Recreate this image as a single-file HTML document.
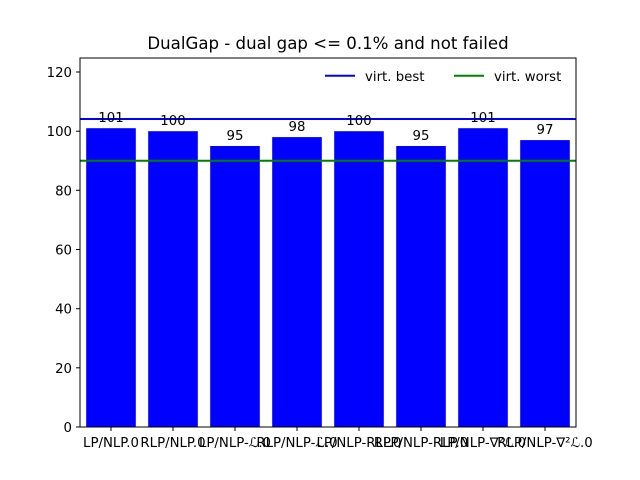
<!DOCTYPE html>
<html><head><meta charset="utf-8"><style>body{margin:0;background:#fff}svg{display:block}text{font-family:"DejaVu Sans","Liberation Sans",sans-serif;font-size:13.3px;fill:#000}</style></head><body>
<svg width="640" height="480" xmlns="http://www.w3.org/2000/svg">
<rect width="640" height="480" fill="#fff"/>
<text x="328" y="49" text-anchor="middle" style="font-size:16.6px">DualGap - dual gap &lt;= 0.1% and not failed</text>
<g fill="#0000ff">
<rect x="86.2" y="128.2" width="49.6" height="298.8"/>
<rect x="148.2" y="131.2" width="49.6" height="295.8"/>
<rect x="210.2" y="146" width="49.6" height="281"/>
<rect x="272.2" y="137.1" width="49.6" height="289.9"/>
<rect x="334.2" y="131.2" width="49.6" height="295.8"/>
<rect x="396.2" y="146" width="49.6" height="281"/>
<rect x="458.2" y="128.2" width="49.6" height="298.8"/>
<rect x="520.2" y="140.1" width="49.6" height="286.9"/>
</g>
<line x1="80" x2="576" y1="119" y2="119" stroke="#0000ff" stroke-width="2"/>
<line x1="80" x2="576" y1="160.8" y2="160.8" stroke="#008000" stroke-width="2"/>
<g text-anchor="middle">
<text x="111" y="122">101</text><text x="173" y="125">100</text><text x="235" y="140">95</text><text x="297" y="131">98</text>
<text x="359" y="125">100</text><text x="421" y="140">95</text><text x="483" y="122">101</text><text x="545" y="134">97</text>
</g>
<rect x="80" y="58" width="496" height="369" fill="none" stroke="#000" stroke-width="1"/>
<g stroke="#000">
<line x1="80" x2="76" y1="427" y2="427"/><line x1="80" x2="76" y1="367.8" y2="367.8"/><line x1="80" x2="76" y1="308.7" y2="308.7"/><line x1="80" x2="76" y1="249.5" y2="249.5"/><line x1="80" x2="76" y1="190.3" y2="190.3"/><line x1="80" x2="76" y1="131.2" y2="131.2"/><line x1="80" x2="76" y1="72" y2="72"/>
<line x1="111" x2="111" y1="427" y2="431"/><line x1="173" x2="173" y1="427" y2="431"/><line x1="235" x2="235" y1="427" y2="431"/><line x1="297" x2="297" y1="427" y2="431"/><line x1="359" x2="359" y1="427" y2="431"/><line x1="421" x2="421" y1="427" y2="431"/><line x1="483" x2="483" y1="427" y2="431"/><line x1="545" x2="545" y1="427" y2="431"/>
</g>
<g text-anchor="end">
<text x="72" y="432">0</text><text x="72" y="372.8">20</text><text x="72" y="313.7">40</text><text x="72" y="254.5">60</text><text x="72" y="195.3">80</text><text x="72" y="136.2">100</text><text x="72" y="77">120</text>
</g>
<g text-anchor="middle">
<text x="111" y="447">LP/NLP.0</text><text x="173" y="447">RLP/NLP.0</text><text x="235" y="447">LP/NLP-ℒ.0</text><text x="297" y="447">RLP/NLP-ℒ.0</text>
<text x="359" y="447">LP/NLP-RLP.0</text><text x="421" y="447">RLP/NLP-RLP.0</text><text x="483" y="447">LP/NLP-∇²ℒ.0</text><text x="545" y="447">RLP/NLP-∇²ℒ.0</text>
</g>
<line x1="325" x2="355" y1="75.7" y2="75.7" stroke="#0000ff" stroke-width="2"/>
<text x="365" y="81">virt. best</text>
<line x1="454" x2="484" y1="75.7" y2="75.7" stroke="#008000" stroke-width="2"/>
<text x="494" y="81">virt. worst</text>
</svg>
</body></html>
